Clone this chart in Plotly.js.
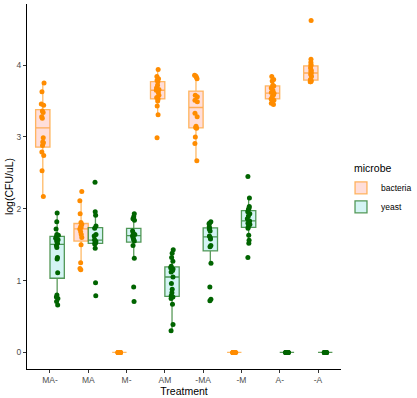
<!DOCTYPE html>
<html>
<head>
<meta charset="utf-8">
<script src="https://cdn.plot.ly/plotly-3.0.1.min.js"></script>
<style>html,body{margin:0;padding:0;background:#fff;}#chart{width:417px;height:398px;}</style>
</head>
<body>
<div id="chart"></div>
<script>
// Categories (x axis)
const categories = ["MA-", "MA", "M-", "AM", "-MA", "-M", "A-", "-A"];
const tickValsY = [0, 1, 2, 3, 4];

// log(CFU/uL) values per treatment, bacteria
const bacteria_MAminus = [2.17, 2.53, 2.74, 2.79, 2.88, 2.92, 2.93, 2.99, 3.26, 3.28, 3.34, 3.36, 3.44, 3.46, 3.63, 3.75];
const bacteria_MA = [1.15, 1.17, 1.25, 1.50, 1.60, 1.64, 1.68, 1.72, 1.74, 1.75, 1.78, 1.81, 1.93, 2.11, 2.24];
const bacteria_Mminus = [0, 0, 0, 0, 0, 0, 0, 0, 0, 0, 0, 0, 0, 0, 0, 0];
const bacteria_AM = [2.99, 3.31, 3.43, 3.50, 3.53, 3.55, 3.58, 3.62, 3.65, 3.66, 3.68, 3.72, 3.77, 3.79, 3.81, 3.84, 3.94];
const bacteria_minusMA = [2.67, 2.91, 3.00, 3.12, 3.13, 3.15, 3.28, 3.33, 3.49, 3.51, 3.56, 3.58, 3.81, 3.83, 3.85, 3.86];
const bacteria_minusM = [0, 0, 0, 0, 0, 0, 0, 0, 0, 0, 0, 0, 0, 0, 0, 0];
const bacteria_Aminus = [3.45, 3.47, 3.49, 3.51, 3.53, 3.56, 3.58, 3.60, 3.61, 3.62, 3.65, 3.68, 3.71, 3.72, 3.78, 3.80, 3.84];
const bacteria_minusA = [3.77, 3.77, 3.78, 3.78, 3.79, 3.80, 3.84, 3.87, 3.89, 3.91, 3.93, 3.96, 3.99, 4.01, 4.04, 4.08, 4.62];

// yeast
const yeast_MAminus = [0.66, 0.71, 0.75, 0.77, 0.80, 1.11, 1.30, 1.32, 1.46, 1.49, 1.52, 1.55, 1.57, 1.59, 1.61, 1.63, 1.64, 1.72, 1.82, 1.94];
const yeast_MA = [0.79, 0.97, 1.45, 1.51, 1.52, 1.53, 1.54, 1.555, 1.57, 1.62, 1.64, 1.73, 1.76, 1.91, 1.96, 2.37];
const yeast_Mminus = [0.71, 0.91, 1.31, 1.49, 1.55, 1.57, 1.59, 1.62, 1.63, 1.64, 1.66, 1.69, 1.84, 1.86, 1.89, 1.93];
const yeast_AM = [0.30, 0.39, 0.67, 0.75, 0.77, 0.79, 0.83, 0.88, 0.96, 1.05, 1.12, 1.14, 1.16, 1.18, 1.20, 1.27, 1.32, 1.38, 1.43];
const yeast_minusMA = [0.72, 0.74, 0.91, 1.24, 1.47, 1.49, 1.58, 1.60, 1.62, 1.69, 1.72, 1.73, 1.75, 1.79, 1.80, 1.82];
const yeast_minusM = [1.32, 1.52, 1.56, 1.63, 1.73, 1.75, 1.78, 1.80, 1.81, 1.83, 1.86, 1.90, 1.93, 1.96, 1.99, 2.01, 2.03, 2.15, 2.45];
const yeast_Aminus = [0, 0, 0, 0, 0, 0, 0, 0, 0, 0, 0, 0, 0, 0, 0, 0];
const yeast_minusA = [0, 0, 0, 0, 0, 0, 0, 0, 0, 0, 0, 0, 0, 0, 0, 0];

const bacteriaGroups = [bacteria_MAminus, bacteria_MA, bacteria_Mminus, bacteria_AM, bacteria_minusMA, bacteria_minusM, bacteria_Aminus, bacteria_minusA];
const yeastGroups = [yeast_MAminus, yeast_MA, yeast_Mminus, yeast_AM, yeast_minusMA, yeast_minusM, yeast_Aminus, yeast_minusA];

// ggplot-style (type 7) box statistics
function quant(s, p) {
  const h = (s.length - 1) * p, lo = Math.floor(h), hi = Math.min(lo + 1, s.length - 1);
  return s[lo] + (h - lo) * (s[hi] - s[lo]);
}
function stats(groups) {
  const out = {q1: [], median: [], q3: [], lowerfence: [], upperfence: []};
  groups.forEach(g => {
    const s = g.slice().sort((a, b) => a - b);
    const q1 = quant(s, 0.25), md = quant(s, 0.5), q3 = quant(s, 0.75);
    const iqr = q3 - q1;
    const inLo = s.filter(v => v >= q1 - 1.5 * iqr);
    const inHi = s.filter(v => v <= q3 + 1.5 * iqr);
    out.q1.push(q1); out.median.push(md); out.q3.push(q3);
    out.lowerfence.push(Math.min(...inLo)); out.upperfence.push(Math.max(...inHi));
  });
  return out;
}

function boxTrace(name, groups, ptColor, lineColor, fill) {
  const st = stats(groups);
  return Object.assign({
    type: 'box', name: name, x: categories, y: groups,
    boxpoints: 'all', jitter: 0.22, pointpos: 0,
    marker: {color: ptColor, size: 5, opacity: 1},
    line: {color: lineColor, width: 1.3},
    fillcolor: fill, whiskerwidth: 0, hoverinfo: 'skip'
  }, st);
}

const data = [
  boxTrace('bacteria', bacteriaGroups, '#FF8C00', 'rgba(255,140,0,0.6)', 'rgba(255,222,218,1)'),
  boxTrace('yeast', yeastGroups, '#006400', 'rgba(0,100,0,0.65)', 'rgba(212,244,244,1)')
];

const axisCommon = {
  showline: true, linecolor: '#000', linewidth: 1,
  ticks: 'outside', ticklen: 3, tickcolor: '#333', tickwidth: 1,
  tickfont: {family: 'Liberation Sans, Arial, sans-serif', size: 8.5, color: '#4d4d4d'},
  showgrid: false, zeroline: false, automargin: false
};

const layout = {
  width: 417, height: 398,
  margin: {l: 27, r: 76, t: 4, b: 29, autoexpand: false},
  paper_bgcolor: '#fff', plot_bgcolor: '#fff',
  font: {family: 'Liberation Sans, Arial, sans-serif', color: '#000'},
  boxmode: 'group', boxgap: 0.25, boxgroupgap: 0,
  showlegend: true,
  xaxis: Object.assign({}, axisCommon, {
    type: 'category', range: [-0.6, 7.6],
    title: {text: 'Treatment', font: {size: 10.5, color: '#000'}, standoff: 1}
  }),
  yaxis: Object.assign({}, axisCommon, {
    range: [-0.231, 4.851], tickvals: tickValsY,
    title: {text: 'log(CFU/uL)', font: {size: 10.5, color: '#000'}, standoff: 0}
  }),
  legend: {
    x: 1.0, xanchor: 'left', y: 0.536, yanchor: 'top',
    font: {size: 8.5, color: '#000'}, tracegroupgap: 0, bgcolor: 'rgba(0,0,0,0)'
  },
  annotations: [{
    text: 'microbe', xref: 'paper', yref: 'paper', x: 1.035, y: 0.5507,
    xanchor: 'left', yanchor: 'middle', showarrow: false,
    font: {size: 10.5, color: '#000'}
  }]
};

Plotly.newPlot('chart', data, layout, {displayModeBar: false, staticPlot: true});
</script>
</body>
</html>
